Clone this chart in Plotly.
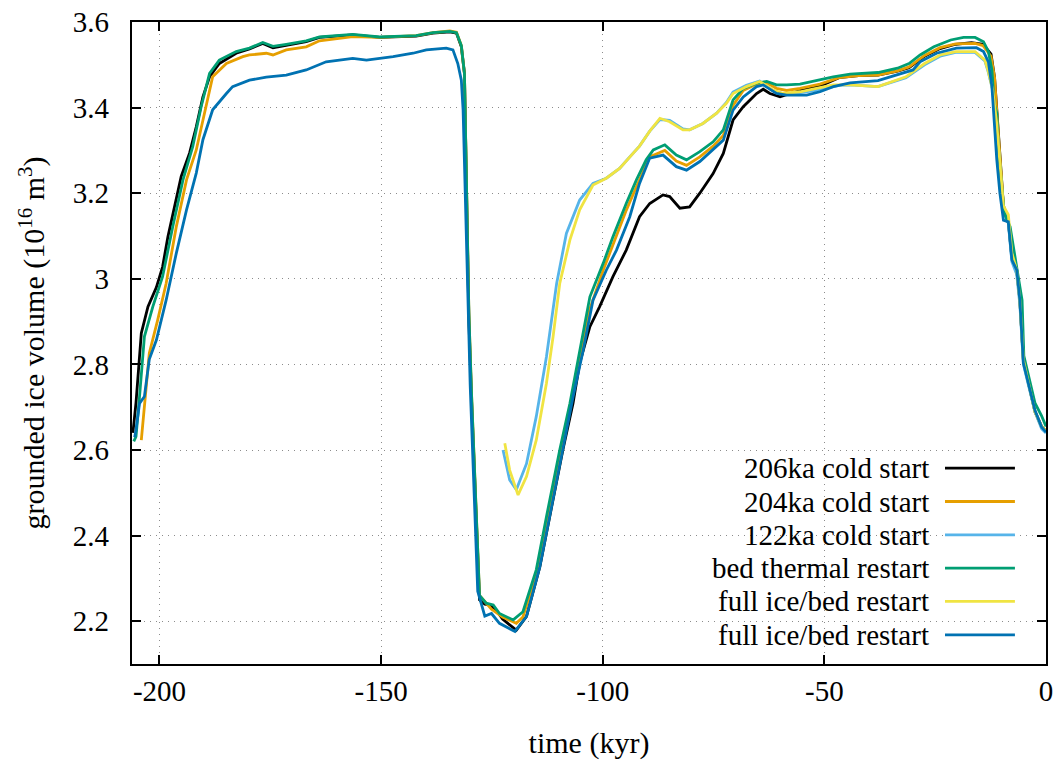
import plotly.graph_objects as go

# ---------------- data (time in kyr, grounded ice volume in 1e16 m^3) ----------------
names = ["206ka cold start", "204ka cold start", "122ka cold start",
         "bed thermal restart", "full ice/bed restart", "full ice/bed restart"]
colors = ["#000000", "#E69F00", "#56B4E9", "#009E73", "#F0E442", "#0072B2"]

t_206 = [-206.0, -205.3, -204.1, -202.6, -200.7, -199.3, -198.1, -196.6, -195.1, -193.2,
         -191.7, -190.2, -188.7, -186.5, -182.7, -179.7, -176.7, -174.4, -171.4, -166.9,
         -163.9, -156.4, -150.3, -142.1, -138.3, -134.5, -133.0, -131.9, -131.2, -130.2,
         -129.6, -127.8, -126.6, -125.5, -124.0, -122.6, -119.5, -117.2, -114.2, -112.0,
         -109.0, -106.7, -105.2, -102.9, -100.7, -97.7, -94.7, -91.7, -89.4, -86.4,
         -84.9, -82.6, -80.4, -78.1, -75.1, -72.8, -70.6, -68.3, -65.3, -63.8,
         -62.3, -60.0, -55.5, -51.0, -46.7, -42.3, -37.9, -33.5, -30.9, -27.4,
         -23.9, -20.4, -16.8, -14.2, -12.4, -11.6, -11.1, -10.4, -9.6, -8.5,
         -7.7, -6.6, -5.9, -5.1, -3.6, -2.5, -1.0, 0.0]
v_206 = [2.64, 2.71, 2.873, 2.935, 2.98, 3.028, 3.098, 3.168, 3.239, 3.294,
         3.355, 3.425, 3.472, 3.503, 3.527, 3.537, 3.55, 3.54, 3.546, 3.554,
         3.564, 3.57, 3.564, 3.567, 3.574, 3.577, 3.574, 3.542, 3.48, 2.904,
         2.717, 2.25, 2.24, 2.238, 2.225, 2.205, 2.179, 2.211, 2.327, 2.444,
         2.6, 2.709, 2.803, 2.888, 2.935, 3.005, 3.067, 3.145, 3.176, 3.196,
         3.192, 3.165, 3.168, 3.2, 3.246, 3.293, 3.371, 3.402, 3.433, 3.443,
         3.433, 3.425, 3.44, 3.45, 3.47, 3.475, 3.476, 3.485, 3.493, 3.52,
         3.538, 3.548, 3.552, 3.548, 3.525, 3.47, 3.39, 3.28, 3.17, 3.135,
         3.05, 3.02, 2.95, 2.81, 2.745, 2.69, 2.655, 2.645]

t_204 = [-204.1, -203.4, -202.3, -200.4, -198.5, -196.2, -193.9, -191.7, -189.8, -188.0,
         -184.9, -181.2, -179.7, -175.9, -174.4, -171.4, -166.9, -163.9, -156.4, -150.3,
         -142.1, -138.3, -134.5, -133.0, -131.9, -131.2, -130.2, -129.6, -127.8, -126.6,
         -125.1, -124.0, -122.6, -119.5, -118.0, -115.0, -112.7, -109.7, -107.4, -105.2,
         -102.9, -99.9, -97.7, -94.7, -92.4, -89.4, -86.0, -83.4, -81.1, -78.1,
         -75.1, -72.8, -70.6, -68.3, -65.3, -63.0, -60.8, -58.5, -55.5, -51.0,
         -46.7, -42.3, -37.9, -33.5, -30.9, -27.4, -23.9, -20.4, -16.0, -14.2,
         -12.4, -11.6, -11.1, -10.4, -9.6, -8.5, -7.7, -6.6, -5.9, -5.1,
         -3.6, -2.5, -1.0, 0.0]
v_204 = [2.623, 2.709, 2.826, 2.904, 2.989, 3.122, 3.231, 3.301, 3.393, 3.472,
         3.503, 3.519, 3.523, 3.527, 3.523, 3.535, 3.542, 3.556, 3.566, 3.564,
         3.568, 3.575, 3.579, 3.576, 3.545, 3.48, 2.92, 2.73, 2.26, 2.245,
         2.228, 2.22, 2.21, 2.195, 2.21, 2.31, 2.43, 2.59, 2.70, 2.815,
         2.93, 3.02, 3.08, 3.16, 3.215, 3.285, 3.30, 3.275, 3.265, 3.285,
         3.31, 3.335, 3.405, 3.44, 3.455, 3.458, 3.445, 3.44, 3.445, 3.455,
         3.47, 3.475, 3.476, 3.486, 3.495, 3.522, 3.54, 3.549, 3.55, 3.545,
         3.52, 3.47, 3.39, 3.28, 3.17, 3.135, 3.05, 3.02, 2.95, 2.81,
         2.745, 2.69, 2.655, 2.645]

t_122 = [-122.5, -121.0, -119.5, -117.2, -115.0, -112.7, -110.4, -108.2, -105.2, -102.2,
         -99.2, -96.2, -93.9, -91.7, -89.4, -87.1, -84.9, -81.9, -80.4, -77.4,
         -74.3, -72.1, -70.6, -67.6, -64.6, -61.6, -59.3, -55.5, -51.8, -46.7,
         -44.2, -37.9, -31.6, -27.4, -23.9, -20.4, -16.0, -13.8, -13.1, -12.0,
         -11.1, -10.4, -9.6, -8.5, -7.7, -6.6, -5.9, -5.1, -3.6, -2.5,
         -1.0, 0.0]
v_122 = [2.6, 2.53, 2.507, 2.568, 2.678, 2.818, 2.989, 3.106, 3.184, 3.223,
         3.235, 3.258, 3.285, 3.31, 3.345, 3.372, 3.37, 3.35, 3.348, 3.363,
         3.387, 3.412, 3.436, 3.452, 3.462, 3.44, 3.432, 3.435, 3.44, 3.452,
         3.453, 3.449, 3.47, 3.5, 3.52, 3.529, 3.529, 3.509, 3.486, 3.44,
         3.36, 3.26, 3.16, 3.13, 3.04, 3.01, 2.94, 2.80, 2.74, 2.69,
         2.65, 2.64]

t_bed = [-205.8, -205.3, -204.5, -203.4, -201.5, -199.3, -197.0, -194.7, -192.5, -190.6,
         -188.7, -186.5, -182.7, -179.7, -176.7, -174.4, -171.4, -166.9, -163.9, -156.4,
         -150.3, -142.1, -138.3, -134.5, -133.0, -131.9, -131.2, -130.2, -129.6, -127.8,
         -126.3, -124.7, -123.3, -120.2, -118.0, -115.0, -112.7, -109.7, -107.4, -105.2,
         -102.9, -99.9, -97.7, -94.7, -92.4, -90.2, -88.6, -86.0, -83.4, -81.1,
         -78.1, -75.1, -72.8, -70.6, -68.3, -65.3, -63.0, -60.8, -58.5, -55.5,
         -51.8, -48.0, -44.2, -37.9, -33.5, -30.9, -28.4, -25.3, -21.5, -18.6,
         -16.0, -14.1, -13.0, -12.2, -11.7, -11.1, -10.7, -10.2, -9.4, -8.1,
         -6.3, -5.4, -5.0, -3.6, -2.5, -1.0, 0.0]
v_bed = [2.62, 2.631, 2.725, 2.865, 2.935, 3.005, 3.122, 3.231, 3.309, 3.402,
         3.48, 3.511, 3.531, 3.539, 3.552, 3.543, 3.548, 3.556, 3.565, 3.571,
         3.565, 3.568, 3.575, 3.578, 3.575, 3.545, 3.48, 2.92, 2.73, 2.26,
         2.242, 2.238, 2.218, 2.203, 2.222, 2.32, 2.444, 2.6, 2.709, 2.832,
         2.958, 3.036, 3.098, 3.176, 3.231, 3.278, 3.301, 3.313, 3.289, 3.278,
         3.297, 3.32, 3.348, 3.418, 3.445, 3.457, 3.461, 3.453, 3.453, 3.455,
         3.463, 3.472, 3.478, 3.482, 3.492, 3.503, 3.523, 3.542, 3.558, 3.564,
         3.564, 3.554, 3.531, 3.488, 3.41, 3.387, 3.293, 3.231, 3.153, 3.122,
         3.013, 2.95, 2.82, 2.755, 2.71, 2.68, 2.655]

t_full1 = [-122.1, -121.0, -119.1, -117.2, -115.0, -112.7, -111.2, -109.7, -107.4, -105.2,
           -102.2, -99.2, -96.2, -93.9, -91.7, -89.4, -87.1, -84.9, -81.9, -80.4,
           -77.4, -74.3, -72.1, -70.6, -67.6, -64.6, -61.6, -59.3, -55.5, -51.8,
           -48.0, -44.2, -37.9, -31.6, -27.4, -23.9, -20.4, -16.0, -13.8, -13.1,
           -12.0, -11.1, -10.4, -9.6, -8.5, -7.7, -6.6, -5.9, -5.1, -3.6,
           -2.5, -1.0, 0.0]
v_full1 = [2.616, 2.553, 2.495, 2.538, 2.623, 2.756, 2.865, 2.989, 3.091, 3.161,
           3.219, 3.235, 3.258, 3.285, 3.31, 3.345, 3.375, 3.367, 3.348, 3.348,
           3.363, 3.387, 3.41, 3.433, 3.449, 3.461, 3.441, 3.433, 3.437, 3.445,
           3.453, 3.453, 3.449, 3.472, 3.503, 3.523, 3.531, 3.531, 3.511, 3.488,
           3.44, 3.36, 3.27, 3.17, 3.15, 3.06, 3.02, 2.95, 2.81, 2.745,
           2.69, 2.655, 2.645]

t_full2 = [-205.6, -205.3, -204.5, -203.4, -202.3, -200.7, -198.5, -196.2, -193.9, -191.7,
           -190.2, -188.0, -184.9, -183.5, -179.7, -175.9, -171.4, -166.9, -162.4, -156.4,
           -153.3, -147.3, -142.8, -139.8, -135.3, -133.8, -132.7, -131.9, -131.5, -130.5,
           -129.9, -128.2, -127.4, -126.6, -125.1, -123.3, -119.8, -117.2, -114.2, -112.0,
           -108.9, -106.7, -104.4, -102.2, -99.2, -96.9, -93.9, -91.7, -89.4, -86.4,
           -83.4, -81.1, -78.1, -75.1, -72.8, -70.6, -68.3, -65.3, -63.8, -60.8,
           -58.5, -54.0, -51.0, -48.0, -44.2, -37.9, -31.8, -30.0, -28.4, -24.7,
           -20.2, -15.7, -14.1, -13.0, -12.2, -11.8, -11.1, -10.4, -9.6, -8.5,
           -7.7, -6.6, -5.9, -5.1, -3.6, -2.5, -1.0, 0.0]
v_full2 = [2.63, 2.647, 2.709, 2.725, 2.812, 2.857, 2.95, 3.06, 3.161, 3.247,
           3.325, 3.395, 3.433, 3.449, 3.464, 3.471, 3.476, 3.488, 3.507, 3.515,
           3.511, 3.519, 3.527, 3.535, 3.539, 3.535, 3.503, 3.464, 3.394, 2.95,
           2.75, 2.27, 2.242, 2.212, 2.218, 2.195, 2.176, 2.211, 2.327, 2.444,
           2.608, 2.724, 2.834, 2.95, 3.02, 3.067, 3.145, 3.223, 3.282, 3.289,
           3.262, 3.254, 3.274, 3.301, 3.324, 3.394, 3.425, 3.449, 3.453, 3.433,
           3.429, 3.429, 3.437, 3.449, 3.458, 3.463, 3.482, 3.488, 3.507, 3.527,
           3.539, 3.54, 3.531, 3.507, 3.449, 3.379, 3.278, 3.2, 3.137, 3.133,
           3.044, 3.021, 2.95, 2.803, 2.74, 2.693, 2.654, 2.642]

series_t = [t_206, t_204, t_122, t_bed, t_full1, t_full2]
series_v = [v_206, v_204, v_122, v_bed, v_full1, v_full2]

x_ticks = [-200, -150, -100, -50, 0]
x_tick_labels = ["-200", "-150", "-100", "-50", "0"]
y_ticks = [2.2, 2.4, 2.6, 2.8, 3.0, 3.2, 3.4, 3.6]
y_tick_labels = ["2.2", "2.4", "2.6", "2.8", "3", "3.2", "3.4", "3.6"]

# ---------------- figure ----------------
FONT = "Liberation Serif"
FS = 29
fig = go.Figure()
for name, col, tt, vv in zip(names, colors, series_t, series_v):
    fig.add_trace(go.Scatter(x=tt, y=vv, mode="lines", name=name,
                             line=dict(color=col, width=2.8), showlegend=False))

# gnuplot-style key: right-aligned text followed by a line sample
row0, drow = 0.305, 0.0519
for i, (name, col) in enumerate(zip(names, colors)):
    yy = row0 - i * drow
    fig.add_annotation(x=0.8745, y=yy, xref="paper", yref="paper", text=name,
                       showarrow=False, xanchor="right", yanchor="middle",
                       font=dict(family=FONT, size=FS, color="black"))
    fig.add_shape(type="line", xref="paper", yref="paper", x0=0.8895, x1=0.966,
                  y0=yy, y1=yy, line=dict(color=col, width=2.8))

axis_common = dict(showline=True, linecolor="black", linewidth=2.4, mirror="allticks",
                   ticks="inside", ticklen=9, tickwidth=2.4, tickcolor="black",
                   showgrid=True, gridcolor="#8c8c8c", gridwidth=1, griddash="1px,5px",
                   zeroline=False, automargin=False,
                   tickfont=dict(family=FONT, size=FS, color="black"))

fig.update_xaxes(range=[-206.2, 0], tickvals=x_ticks, ticktext=x_tick_labels,
                 title=dict(text="time (kyr)", font=dict(family=FONT, size=30, color="black"),
                            standoff=26),
                 ticklabelstandoff=0, **axis_common)
fig.update_yaxes(range=[2.1, 3.6], tickvals=y_ticks, ticktext=y_tick_labels,
                 title=dict(text="grounded ice volume (10<sup>16</sup> m<sup>3</sup>)",
                            font=dict(family=FONT, size=30, color="black"), standoff=19),
                 ticklabelstandoff=15, **axis_common)

fig.update_layout(width=1058, height=766, margin=dict(l=132, r=12, t=22, b=102),
                  template="none", plot_bgcolor="white", paper_bgcolor="white",
                  font=dict(family=FONT, size=FS, color="black"))

fig.write_html("out.html")
